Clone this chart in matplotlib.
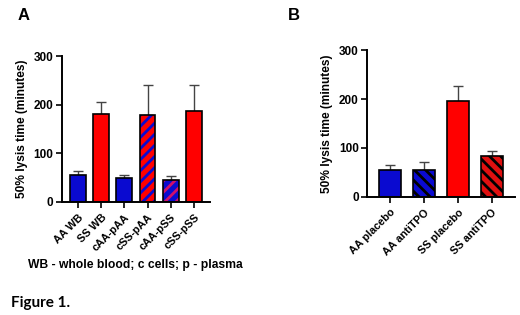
import matplotlib
matplotlib.use("Agg")
import matplotlib.pyplot as plt

plt.rcParams['font.family'] = ['Liberation Sans', 'DejaVu Sans']
plt.rcParams['font.weight'] = 'bold'
plt.rcParams['hatch.linewidth'] = 2.0

# panel A data
labels_a = ['AA WB', 'SS WB', 'cAA-pAA', 'cSS-pAA', 'cAA-pSS', 'cSS-pSS']
means_a = [56, 181, 49, 179, 46, 187]
upper_a = [63, 205, 55, 240, 53, 240]
# panel B data
labels_b = ['AA placebo', 'AA antiTPO', 'SS placebo', 'SS antiTPO']
means_b = [55, 55, 195, 83]
upper_b = [65, 72, 227, 93]

blue = '#0a0ad0'
red = '#ff0000'
face_a = [blue, red, blue, red, blue, red]
hatch_a = [None, None, None, '///', '///', None]
hcol_a = ['k', 'k', 'k', blue, '#d0106a', 'k']
face_b = [blue, blue, red, '#e01010']
hatch_b = [None, '\\\\\\', None, '\\\\\\']

fig = plt.figure(figsize=(5.2, 3.15), dpi=100)
axA = fig.add_axes([0.119, 0.359, 0.285, 0.463])
axB = fig.add_axes([0.706, 0.375, 0.284, 0.466])


def draw(ax, labels, means, upper, faces, hatches, hcols, width):
    x = list(range(len(labels)))
    err = [u - m for u, m in zip(upper, means)]
    ax.errorbar(x, means, yerr=[[0] * len(x), err], fmt='none', ecolor='#444444',
                elinewidth=1, capsize=3.5, capthick=1, zorder=1)
    for i in x:
        hc = hcols[i] if hcols else 'k'
        ax.bar(i, means[i], width=width, color=faces[i], hatch=hatches[i],
               edgecolor=hc, linewidth=0, zorder=2)
        ax.bar(i, means[i], width=width, fill=False, edgecolor='k', linewidth=1.2, zorder=3)
    ax.set_xticks(x)
    ax.set_xticklabels(labels, rotation=45, ha='right', rotation_mode='anchor', fontsize=7.8)
    ax.set_ylim(0, 300)
    ax.set_yticks([0, 100, 200, 300])
    ax.tick_params(axis='y', labelsize=8.5, width=1.2, length=4, pad=2)
    ax.tick_params(axis='x', width=1.2, length=4)
    for s in ['top', 'right']:
        ax.spines[s].set_visible(False)
    for s in ['left', 'bottom']:
        ax.spines[s].set_linewidth(1.4)
    ax.set_ylabel('50% lysis time (minutes)', fontsize=8.6, fontweight='bold', labelpad=4)


draw(axA, labels_a, means_a, upper_a, face_a, hatch_a, hcol_a, 0.68)
axA.set_xlim(-0.69, 5.69)
draw(axB, labels_b, means_b, upper_b, face_b, hatch_b, ['k'] * 4, 0.65)
axB.set_xlim(-0.68, 3.68)

fig.text(0.034, 0.952, 'A', fontsize=12, fontweight='bold', va='center')
fig.text(0.553, 0.952, 'B', fontsize=12, fontweight='bold', va='center')
fig.text(0.26, 0.158, 'WB - whole blood; c cells; p - plasma', fontsize=8.7,
         fontweight='bold', ha='center', va='center')
fig.text(0.022, 0.038, 'Figure 1.', fontsize=11, fontweight='bold', family='Lato',
         va='center')

fig.savefig('out.png', dpi=100)
